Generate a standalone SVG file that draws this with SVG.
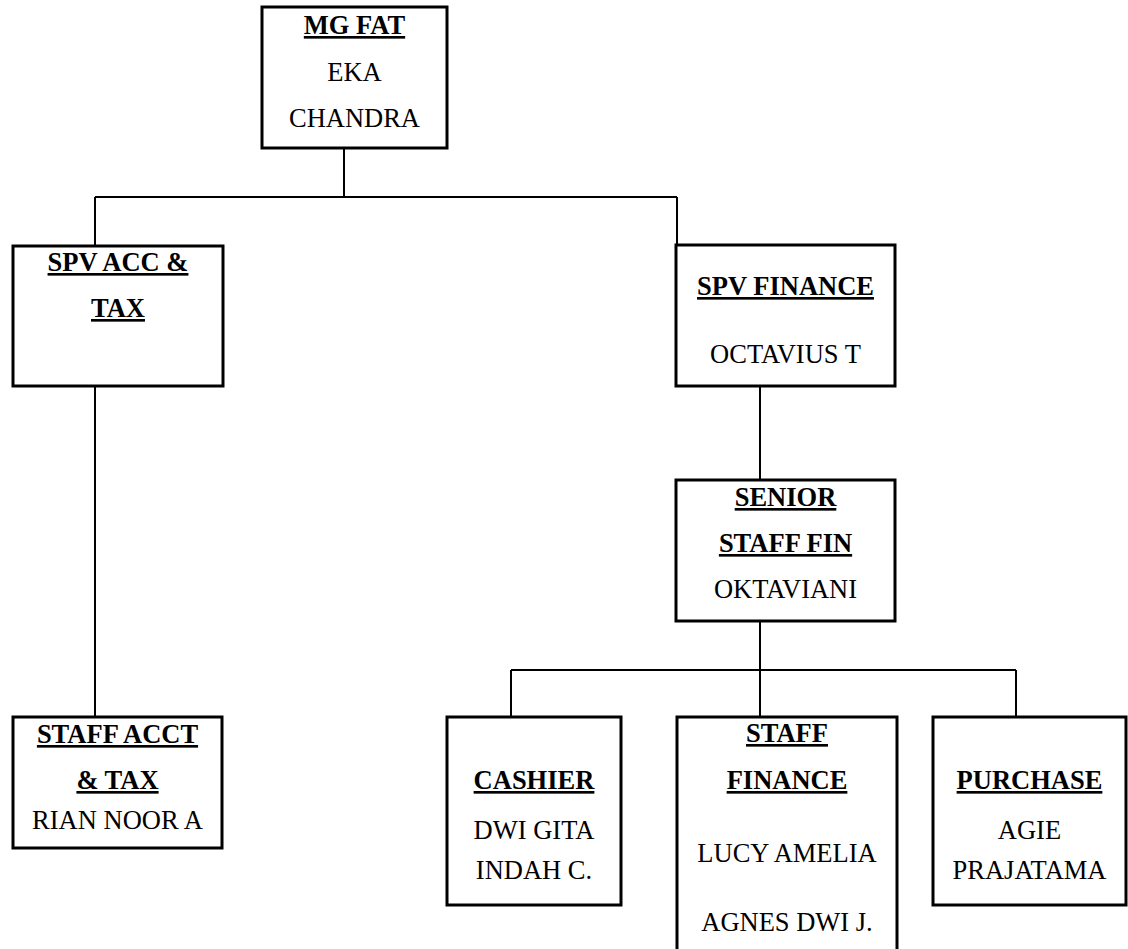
<svg xmlns="http://www.w3.org/2000/svg" width="1128" height="949" viewBox="0 0 1128 949">
<style>
.box{fill:#fff;stroke:#000;stroke-width:3}
.con{fill:none;stroke:#000;stroke-width:2}
text{font-family:"Liberation Serif","Times New Roman",serif;font-size:26.5px;fill:#000;text-anchor:middle}
.t{font-weight:bold;text-decoration:underline}
</style>
<rect width="1128" height="949" fill="#fff"/>
<g id="connectors">
<path class="con" d="M344,148V197M95,197H677M95,197V246M677,197V245"/>
<path class="con" d="M95,386V717"/>
<path class="con" d="M760,386V480"/>
<path class="con" d="M760,621V670M511,670H1016M511,670V717M760,670V717M1016,670V717"/>
</g>
<g font-family="Liberation Serif, Times New Roman, serif">
<g id="mg-fat">
<rect class="box" x="262" y="7" width="185" height="141"/>
<text class="t" x="354.5" y="34">MG FAT</text>
<text x="354.5" y="81">EKA</text>
<text x="354.5" y="127">CHANDRA</text>
</g>
<g id="spv-acc-tax">
<rect class="box" x="13" y="246" width="210" height="140"/>
<text class="t" x="118" y="271">SPV ACC &amp;</text>
<text class="t" x="118" y="317">TAX</text>
</g>
<g id="spv-finance">
<rect class="box" x="676" y="245" width="219" height="141"/>
<text class="t" x="785.5" y="295">SPV FINANCE</text>
<text x="785.5" y="363">OCTAVIUS T</text>
</g>
<g id="senior-staff-fin">
<rect class="box" x="676" y="480" width="219" height="141"/>
<text class="t" x="785.5" y="506">SENIOR</text>
<text class="t" x="785.5" y="552">STAFF FIN</text>
<text x="785.5" y="598">OKTAVIANI</text>
</g>
<g id="staff-acct-tax">
<rect class="box" x="13" y="717" width="209" height="131"/>
<text class="t" x="117.5" y="743">STAFF ACCT</text>
<text class="t" x="117.5" y="789">&amp; TAX</text>
<text x="117.5" y="829">RIAN NOOR A</text>
</g>
<g id="cashier">
<rect class="box" x="447" y="717" width="174" height="188"/>
<text class="t" x="534" y="789">CASHIER</text>
<text x="534" y="839">DWI GITA</text>
<text x="534" y="879">INDAH C.</text>
</g>
<g id="staff-finance">
<rect class="box" x="677" y="717" width="220" height="240"/>
<text class="t" x="787" y="742">STAFF</text>
<text class="t" x="787" y="789">FINANCE</text>
<text x="787" y="862">LUCY AMELIA</text>
<text x="787" y="931">AGNES DWI J.</text>
</g>
<g id="purchase">
<rect class="box" x="933" y="717" width="193" height="188"/>
<text class="t" x="1029.5" y="789">PURCHASE</text>
<text x="1029.5" y="839">AGIE</text>
<text x="1029.5" y="879">PRAJATAMA</text>
</g>
</g>
</svg>
